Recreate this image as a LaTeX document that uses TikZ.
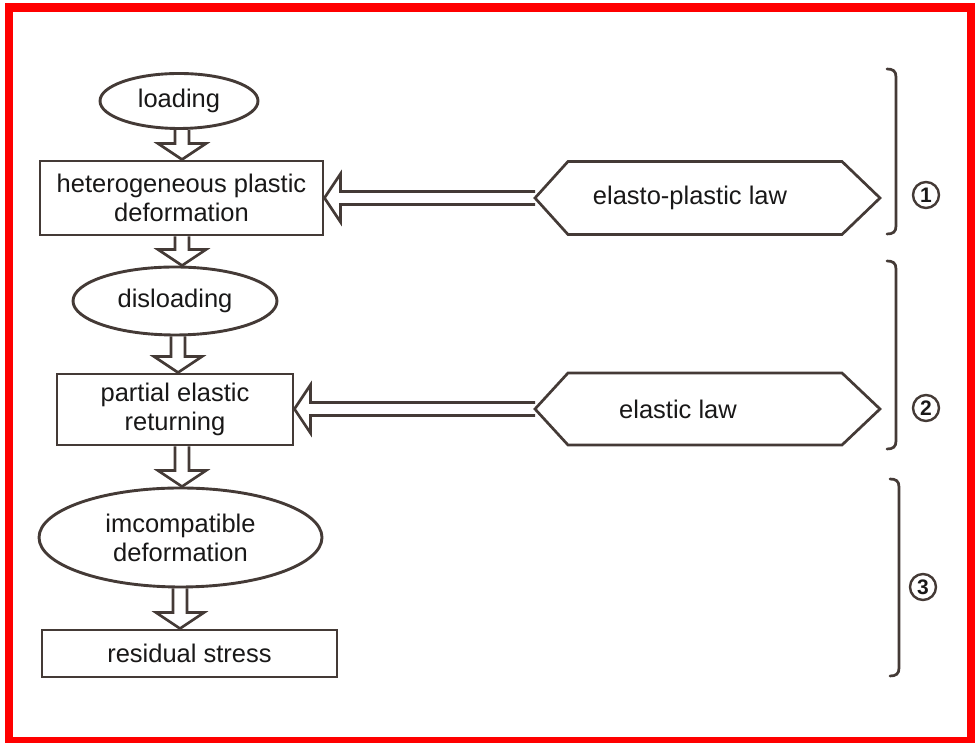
\documentclass[tikz,border=0pt]{standalone}
\usepackage{fontspec}
\setmainfont{Liberation Sans}
\usetikzlibrary{shapes.geometric,calc}
\definecolor{ink}{RGB}{68,58,54}
\definecolor{txt}{RGB}{25,24,24}
\tikzset{
  flowline/.style={draw=ink,line width=2.7pt,line join=miter},
  boxnode/.style={draw=ink,line width=2.9pt,rectangle,inner sep=0pt,align=center,text=txt,font=\fontsize{25.5}{29}\selectfont},
  ovalnode/.style={draw=ink,line width=2.9pt,ellipse,inner sep=0pt,align=center,text=txt,font=\fontsize{25.5}{29}\selectfont},
  lawtext/.style={inner sep=0pt,text=txt,font=\fontsize{25.5}{29}\selectfont},
  numcirc/.style={draw=ink,line width=2.4pt,circle,minimum size=26pt,inner sep=0pt,text=txt,font=\fontsize{21}{21}\selectfont\bfseries},
  bracketline/.style={draw=ink,line width=2.7pt,line cap=round},
  redframe/.style={draw=red,line width=8.5pt}
}
\newcommand\vflow[3]{\draw[flowline] let \p1=(#1.south), \p2=(#2.north) in
  ({#3pt-7pt},\y1) -- ({#3pt-7pt},{\y2+16pt}) -- ({#3pt-24pt},{\y2+16pt}) -- (#3pt,\y2)
  -- ({#3pt+24pt},{\y2+16pt}) -- ({#3pt+7pt},{\y2+16pt}) -- ({#3pt+7pt},\y1);}
\newcommand\hflow[2]{\draw[flowline] let \p1=(#1), \p2=(#2.east) in
  (\x1,{\y1+6.5pt}) -- ({\x2+16pt},{\y1+6.5pt}) -- ({\x2+16pt},{\y1+24pt}) -- (\x2,\y1)
  -- ({\x2+16pt},{\y1-24pt}) -- ({\x2+16pt},{\y1-6.5pt}) -- (\x1,{\y1-6.5pt});}
\newcommand\sidebracket[3]{\draw[bracketline] (#1-9,#2+1) .. controls (#1-3,#2+1) and (#1,#2-1) .. (#1,#2-7)
  -- (#1,#3+7) .. controls (#1,#3+1) and (#1-3,#3-1) .. (#1-9,#3-1);}
\begin{document}
\begin{tikzpicture}[x=1pt,y=1pt]
\useasboundingbox (0,0) rectangle (975,743);
\fill[white] (0,0) rectangle (975,743);
\draw[redframe] (9,2) rectangle (971,735.5);

% left column
\node[ovalnode,minimum width=158pt,minimum height=55pt] (loading) at (179,642) {loading};
\node[boxnode,minimum width=283pt,minimum height=74pt] (hetero) at (181.5,545) {heterogeneous plastic\\deformation};
\node[ovalnode,minimum width=204pt,minimum height=68pt] (disloading) at (175,442) {disloading};
\node[boxnode,minimum width=236pt,minimum height=71pt] (partial) at (175,333.5) {partial elastic\\returning};
\node[ovalnode,minimum width=283pt,minimum height=99pt] (imcomp) at (180.5,205.5) {imcompatible\\deformation};
\node[boxnode,minimum width=295pt,minimum height=47pt] (residual) at (189.5,89.5) {residual stress};

% right law shapes
\draw[flowline] (535,545) -- (568,581.5) -- (842,581.5) -- (880,545) -- (842,508.5) -- (568,508.5) -- cycle;
\coordinate (eplaw) at (535,545);
\node[lawtext] (eptext) at (690,545) {elasto-plastic law};
\draw[flowline] (535,334) -- (568,370) -- (842,370) -- (880,334) -- (842,298) -- (568,298) -- cycle;
\coordinate (elaw) at (535,334);
\node[lawtext] (etext) at (678,334) {elastic law};

% vertical hollow arrows
\vflow{loading}{hetero}{182}
\vflow{hetero}{disloading}{182}
\vflow{disloading}{partial}{178}
\vflow{partial}{imcomp}{182}
\vflow{imcomp}{residual}{180}

% horizontal hollow arrows
\hflow{eplaw}{hetero}
\hflow{elaw}{partial}

% brackets and stage numbers
\sidebracket{896}{673}{510}
\sidebracket{896}{481}{295}
\sidebracket{899}{263}{68}
\node[numcirc] (n1) at (926,548) {1};
\node[numcirc] (n2) at (926,335) {2};
\node[numcirc] (n3) at (923,156) {3};
\end{tikzpicture}
\end{document}
